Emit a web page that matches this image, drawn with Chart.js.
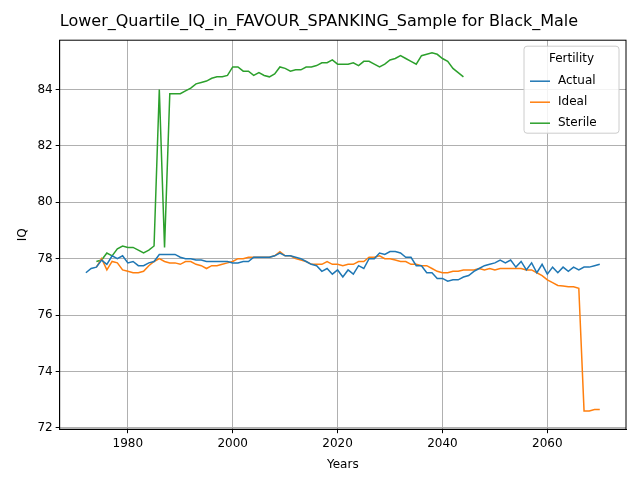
<!DOCTYPE html>
<html><head><meta charset="utf-8">
<script src="https://cdn.jsdelivr.net/npm/chart.js@4"></script>
<style>body{margin:0;background:#fff}#wrap{width:640px;height:480px}</style>
</head><body><div id="wrap"><canvas id="c"></canvas></div>
<script>
var actualStart = 1972;
var actual = [77.5,77.65,77.7,77.95,77.8,78.1,78.0,78.1,77.85,77.9,77.75,77.75,77.85,77.9,78.15,78.15,78.15,78.15,78.05,78.0,
  78.0,77.95,77.95,77.9,77.9,77.9,77.9,77.9,77.85,77.85,77.9,77.9,78.05,78.05,78.05,78.05,78.1,78.2,78.1,78.1,
  78.05,78.0,77.9,77.8,77.75,77.55,77.65,77.45,77.6,77.35,77.6,77.45,77.75,77.65,78.0,78.0,78.2,78.15,78.25,78.25,
  78.2,78.05,78.05,77.75,77.75,77.5,77.5,77.3,77.3,77.2,77.25,77.25,77.35,77.4,77.55,77.65,77.75,77.8,77.85,77.95,
  77.85,77.95,77.7,77.9,77.6,77.85,77.5,77.8,77.45,77.7,77.5,77.7,77.55,77.7,77.6,77.7,77.7,77.75,77.8];
var idealStart = 1974;
var ideal = [77.7,78.0,77.6,77.9,77.85,77.6,77.55,77.5,77.5,77.55,77.75,77.9,78.0,77.9,77.85,77.85,77.8,77.9,77.9,77.8,
  77.75,77.65,77.75,77.75,77.8,77.85,77.9,78.0,78.0,78.05,78.05,78.05,78.05,78.05,78.1,78.25,78.1,78.1,78.0,77.95,
  77.9,77.8,77.8,77.8,77.9,77.8,77.8,77.75,77.8,77.8,77.9,77.9,78.05,78.05,78.1,78.0,78.0,77.95,77.9,77.9,
  77.8,77.8,77.75,77.75,77.65,77.55,77.5,77.5,77.55,77.55,77.6,77.6,77.6,77.65,77.6,77.65,77.6,77.65,77.65,77.65,
  77.65,77.65,77.6,77.6,77.5,77.4,77.25,77.15,77.05,77.03,77.0,77.0,76.95,72.6,72.6,72.65,72.65];
var sterileStart = 1974;
var sterile = [77.9,77.95,78.2,78.1,78.35,78.45,78.4,78.4,78.3,78.2,78.3,78.45,84.0,78.4,83.85,83.85,83.85,83.95,84.05,84.2,
  84.25,84.3,84.4,84.45,84.45,84.5,84.8,84.8,84.65,84.65,84.5,84.6,84.5,84.45,84.55,84.8,84.75,84.65,84.7,84.7,
  84.8,84.8,84.85,84.95,84.95,85.05,84.9,84.9,84.9,84.95,84.85,85.0,85.0,84.9,84.8,84.9,85.05,85.1,85.2,85.1,
  85.0,84.9,85.2,85.25,85.3,85.25,85.1,85.0,84.75,84.6,84.45];
var xTicks = [1980, 2000, 2020, 2040, 2060];
var yTicks = [72, 74, 76, 78, 80, 82, 84];

function pts(start, vals) {
  return vals.map(function (v, i) { return { x: start + i, y: v }; });
}
function line(label, color, start, vals) {
  return { label: label, data: pts(start, vals), borderColor: color, backgroundColor: color,
    borderWidth: 1.5, pointRadius: 0, tension: 0 };
}
var font = { family: 'DejaVu Sans', size: 12 };

// box round the plot and a matplotlib-like legend in the top right corner
var frameAndLegend = {
  id: 'frameAndLegend',
  afterDraw: function (chart) {
    var ctx = chart.ctx, a = chart.chartArea;
    ctx.save();
    ctx.strokeStyle = '#000'; ctx.lineWidth = 1;
    ctx.strokeRect(a.left, a.top, a.right - a.left, a.bottom - a.top);
    var w = 95, h = 87, x = a.right - w - 7, y = a.top + 6;
    ctx.fillStyle = 'rgba(255,255,255,0.85)';
    ctx.strokeStyle = '#ccc';
    ctx.beginPath(); ctx.roundRect(x, y, w, h, 3); ctx.fill(); ctx.stroke();
    ctx.fillStyle = '#000'; ctx.font = '12px DejaVu Sans';
    ctx.textAlign = 'center'; ctx.textBaseline = 'middle';
    ctx.fillText('Fertility', x + w / 2, y + 13);
    ctx.textAlign = 'left';
    chart.data.datasets.forEach(function (ds, i) {
      var ly = y + 35 + i * 21;
      ctx.strokeStyle = ds.borderColor; ctx.lineWidth = 1.5;
      ctx.beginPath(); ctx.moveTo(x + 6, ly); ctx.lineTo(x + 26, ly); ctx.stroke();
      ctx.fillText(ds.label, x + 34, ly);
    });
    ctx.restore();
  }
};

new Chart(document.getElementById('c'), {
  type: 'line',
  data: { datasets: [
    line('Actual', '#1f77b4', actualStart, actual),
    line('Ideal', '#ff7f0e', idealStart, ideal),
    line('Sterile', '#2ca02c', sterileStart, sterile)
  ] },
  plugins: [frameAndLegend],
  options: {
    responsive: true, maintainAspectRatio: false, animation: false,
    layout: { padding: { left: 12, right: 14, top: 4, bottom: 4 } },
    plugins: {
      title: { display: true, text: 'Lower_Quartile_IQ_in_FAVOUR_SPANKING_Sample for Black_Male',
        color: '#000', font: { family: 'DejaVu Sans', size: 16, weight: 'normal' }, padding: { top: 8, bottom: 9 } },
      legend: { display: false },
      tooltip: { enabled: false }
    },
    scales: {
      x: { type: 'linear', min: 1967, max: 2075,
        afterBuildTicks: function (a) { a.ticks = xTicks.map(function (v) { return { value: v }; }); },
        ticks: { color: '#000', font: font, callback: function (v) { return String(v); } },
        grid: { color: '#b0b0b0', tickColor: '#000', tickLength: 4 },
        border: { color: '#000' },
        title: { display: true, text: 'Years', color: '#000', font: font } },
      y: { min: 71.95, max: 85.75,
        afterBuildTicks: function (a) { a.ticks = yTicks.map(function (v) { return { value: v }; }); },
        ticks: { color: '#000', font: font },
        grid: { color: '#b0b0b0', tickColor: '#000', tickLength: 4 },
        border: { color: '#000' },
        title: { display: true, text: 'IQ', color: '#000', font: font } }
    }
  }
});
</script></body></html>
